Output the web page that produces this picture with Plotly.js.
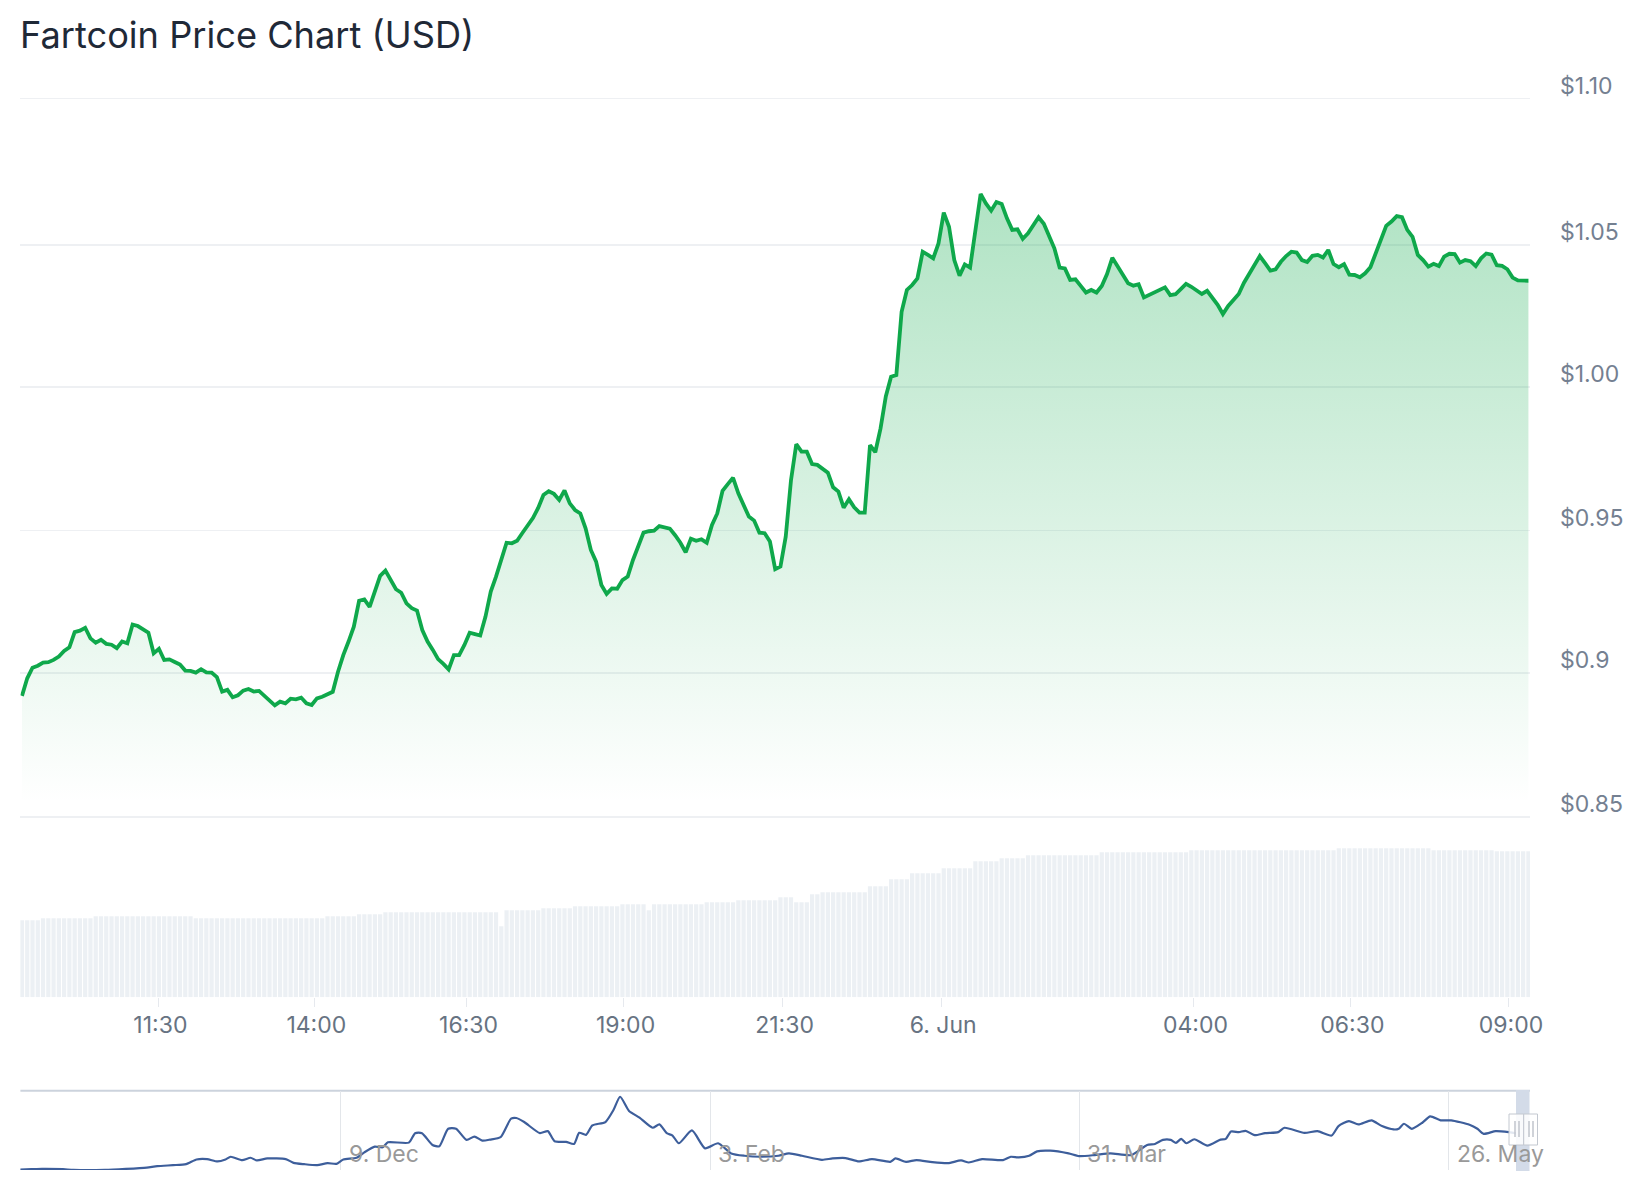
<!DOCTYPE html>
<html><head><meta charset="utf-8">
<script src="https://cdn.plot.ly/plotly-3.0.1.min.js"></script>
<style>html,body{margin:0;padding:0;background:#fff}</style></head>
<body><div id="chart" style="width:1644px;height:1200px"></div>
<script>
const chartTitle = 'Fartcoin Price Chart (USD)';
const priceValues = [
.8921,.8982,.9019,.9026,.9037,.9038,.9046,.9058,.9077,.9090,.9143,.9148,.9158,.9121,.9106,.9116,.9102,.9099,.9087,.9110,.9104,.9169,.9164,.9153,.9141,.9069,.9085,.9046,.9048,.9039,.9030,.9009,.9008,.9002,.9014,.9003,.9002,.8986,.8936,.8942,.8916,.8923,.8939,.8945,.8936,.8938,.8921,.8907,.8888,.8901,
.8895,.8911,.8909,.8915,.8895,.8889,.8912,.8918,.8928,.8935,.9005,.9063,.9110,.9162,.9252,.9257,.9231,.9284,.9339,.9357,.9322,.9292,.9280,.9243,.9226,.9218,.9150,.9110,.9081,.9049,.9032,.9013,.9063,.9063,.9098,.9141,.9136,.9131,.9197,.9284,.9336,.9394,.9454,.9452,.9461,
.9488,.9512,.9540,.9575,
.9620,.9633,.9624,.9603,.9636,.9591,.9568,.9556,.9504,.9429,.9388,.9307,.9276,.9295,.9294,.9324,.9336,.9394,.9446,.9489,.9494,.9496,.9512,.9508,.9503,.9480,.9454,.9421,.9468,.9461,.9466,.9454,.9516,.9556,.9635,.9658,.9680,.9626,.9585,.9545,.9531,.9489,.9487,.9458,.9362,.9371,.9475,.9672,.9797,.9771,
.9771,.9728,.9725,.9711,.9698,.9647,.9632,.9576,.9605,.9577,.9559,.9559,.9794,.9769,.9852,.9963,1.0032,1.0038,1.0258,1.0334,1.0351,1.0374,1.0467,1.0456,1.0444,1.0496,1.0603,1.0554,1.0438,1.0384,1.0423,1.0412,1.0537,1.0668,1.0635,1.0610,1.0640,1.0633,1.0583,1.0543,1.0545,1.0512,1.0531,1.0559,1.0587,1.0564,1.0519,1.0479,
1.0412,1.0409,1.0369,1.0371,1.0348,1.0325,1.0334,1.0325,1.0348,1.0389,1.0446,1.0417,1.0389,1.0357,1.0349,1.0354,1.0308,1.0316,1.0325,1.0334,1.0343,1.0316,1.0319,1.0337,1.0355,1.0345,1.0334,1.0320,1.0331,1.0305,1.0282,1.0250,1.0278,1.0299,1.0320,1.0359,1.0392,1.0424,1.0452,1.0427,1.0401,1.0406,1.0432,1.0452,1.0467,1.0464,1.0438,
1.0431,1.0453,1.0456,1.0447,1.0473,1.0424,1.0413,1.0424,1.0387,1.0386,1.0378,1.0392,1.0413,1.0461,1.0514,1.0557,1.0572,1.0591,1.0587,1.0543,1.0519,1.0456,1.0438,1.0415,1.0425,1.0417,1.0450,1.0460,1.0459,1.0429,1.0438,1.0434,1.0417,1.0444,1.0461,1.0457,1.0420,1.0418,1.0406,1.0377,1.0367,1.0366,1.0366];
const volumeValues = [
77,77,77,77,
79,79,79,79,79,79,79,79,79,79,
81,81,81,81,81,81,81,81,81,81,81,81,81,81,81,81,81,81,81,
79,79,79,79,79,79,79,79,79,79,79,79,79,79,79,79,79,79,79,79,79,79,79,79,79,
81,81,81,81,81,81,
83,83,83,83,83,
85,85,85,85,85,85,85,85,85,85,85,85,85,85,85,85,85,85,85,85,85,85,
71,
87,87,87,87,87,87,87,
89,89,89,89,89,89,
91,91,91,91,91,91,91,91,91,
93,93,93,93,93,
87,
93,93,93,93,93,93,93,93,93,93,
95,95,95,95,95,95,
97,97,97,97,97,97,97,97,
100,100,100,
95,95,95,
103,103,
105,105,105,105,105,105,105,105,105,
111,111,111,111,
118,118,118,118,
124,124,124,124,124,124,
129,129,129,129,129,129,
136,136,136,136,136,
139,139,139,139,139,
142,142,142,142,142,142,142,142,142,142,142,142,142,142,
145,145,145,145,145,145,145,145,145,145,145,145,145,145,145,145,145,
147,147,147,147,147,147,147,147,147,147,147,147,147,147,147,147,147,147,147,147,147,147,147,147,147,147,147,147,
149,149,149,149,149,149,149,149,149,149,149,149,149,149,149,149,149,149,
147,147,147,147,147,147,147,147,147,147,147,147,
146,146,146,146,146,146,146];
const priceIndex = priceValues.map((_, i) => i);
const timeTickPositions = [25.9,55.5,84.4,114.2,144.4,174.5,222.4,252.2,282.3];
const timeTickLabels = ['11:30','14:00','16:30','19:00','21:30','6. Jun','04:00','06:30','09:00'];
const priceTickPositions = [0.85,0.9001,0.9496,0.9996,1.049,1.10];
const priceTickLabels = ['$0.85','$0.9','$0.95','$1.00','$1.05','$1.10'];
const overviewStart = '2024-10-21';
const overviewDays = [0.33,2.08,3.67,6.85,8.44,13.21,16.39,19.57,21.16,23.55,25.53,27.12,28.71,30.30,31.50,32.29,34.04,35.31,36.27,37.86,40.64,41.83,43.42,45.41,46.99,48.35,49.38,51.37,52.56,54.15,55.35,56.14,59.32,60.27,61.31,62.90,63.93,65.28,66.48,68.07,69.26,70.45,71.64,73.23,74.82,75.62,76.81,79.20,80.39,81.42,83.17,84.36,85.16,86.19,87.15,89.13,90.33,91.36,92.71,94.30,96.29,97.32,98.43,99.31,100.26,102.25,104.24,106.22,108.21,110.20,112.59,115.37,116.96,118.95,121.97,123.59,125.58,127.57,129.55,132.34,133.13,134.72,136.31,138.70,141.08,143.07,144.26,146.25,149.43,150.62,151.81,153.40,154.60,156.58,159.37,160.96,163.34,165.73,168.91,171.29,172.48,173.68,174.87,175.66,176.46,177.25,178.45,180.43,182.42,183.22,184.01,185.20,186.24,187.59,189.18,191.17,192.12,195.14,197.13,199.27,200.31,201.90,203.33,205.32,206.91,208.66,209.45,210.25,211.44,213.03,214.22,215.81,217.40,220.18,221.38,222.33,224.16,226.14,227.74,229.33];
const overviewValues = [0,.01,.02,.01,-.01,-.01,.02,.06,.10,.13,.16,.30,.31,.24,.30,.38,.28,.35,.27,.33,.31,.20,.16,.13,.19,.17,.30,.35,.51,.68,.66,.81,.80,1.08,1.08,.73,.69,1.21,1.21,.88,.98,.86,.89,.96,1.51,1.53,1.41,1.08,1.14,.84,.82,.76,1.09,1.03,1.31,1.41,1.76,2.16,1.74,1.54,1.24,1.34,1.08,1.01,.78,1.16,.63,.78,.48,.41,.38,.41,.48,.41,.29,.33,.34,.24,.31,.23,.33,.23,.28,.22,.19,.27,.21,.31,.28,.38,.36,.41,.54,.56,.48,.40,.43,.48,.43,.73,.76,.88,.88,.79,.91,.78,.90,.71,.89,.91,1.13,1.11,1.15,1.02,1.08,1.11,1.24,1.09,1.14,1.01,1.29,1.44,1.34,1.46,1.29,1.19,1.21,1.36,1.21,1.39,1.58,1.46,1.46,1.33,1.21,1.06,1.14,1.11,1.06,1.06];
const overviewTickDates = ['2024-12-09','2025-02-03','2025-03-31','2025-05-26'];
const overviewTickLabels = ['9. Dec','3. Feb','31. Mar','26. May'];

const W = 1644, H = 1200;
const px = v => v / W, py = v => 1 - v / H;
const dayMs = 86400000, t0 = Date.parse(overviewStart + 'T00:00:00Z');
const overviewX = overviewDays.map(d => new Date(t0 + d * dayMs).toISOString());
const fontFam = 'Inter, "Noto Sans", sans-serif';

const traces = [
  {type:'bar', x:priceIndex, y:volumeValues, xaxis:'x', yaxis:'y2',
   marker:{color:'#ecf0f4', line:{width:0}}, hoverinfo:'skip', showlegend:false},
  {type:'scatter', mode:'lines', x:priceIndex, y:priceValues, xaxis:'x', yaxis:'y',
   line:{color:'#0fa84b', width:3.8, shape:'linear'}, fill:'tozeroy',
   fillgradient:{type:'vertical', start:1.0668, stop:0.8545,
     colorscale:[[0,'rgba(15,170,75,0.33)'],[1,'rgba(15,170,75,0)']]},
   showlegend:false},
  {type:'scatter', mode:'lines', x:overviewX, y:overviewValues, xaxis:'x2', yaxis:'y3',
   line:{color:'#3d5e9b', width:2.2, shape:'spline', smoothing:0.6}, showlegend:false, hoverinfo:'skip'}
];

function hRect(x0,x1,y0,y1,fill,line){
  return {type:'rect',xref:'paper',yref:'paper',x0:px(x0),x1:px(x1),y0:py(y0),y1:py(y1),
          fillcolor:fill,line:line||{width:0},layer:'above'};
}
function vLine(x,y0,y1,c,w){
  return {type:'line',xref:'paper',yref:'paper',x0:px(x),x1:px(x),y0:py(y0),y1:py(y1),line:{color:c,width:w},layer:'above'};
}
const shapes = [
  {type:'line',xref:'paper',yref:'paper',x0:px(20.4),x1:px(1530),y0:py(1090.7),y1:py(1090.7),line:{color:'#ccd3dd',width:2},layer:'below'},
  hRect(1516,1529.5,1090,1171,'#d3dbe8'),
  hRect(1509,1523.7,1114,1145,'rgba(255,255,255,0.85)',{color:'#c3c8d0',width:1}),
  hRect(1523.7,1537.5,1114,1145,'rgba(255,255,255,0.85)',{color:'#c3c8d0',width:1}),
  vLine(1515,1121,1137,'#c0c5cd',1.5), vLine(1519,1121,1137,'#c0c5cd',1.5),
  vLine(1529,1121,1137,'#c0c5cd',1.5), vLine(1533,1121,1137,'#c0c5cd',1.5)
];
const annotations = overviewTickDates.map((d,i)=>({
  x:d+'T00:00:00Z', xref:'x2', y:py(1154), yref:'paper', text:overviewTickLabels[i], showarrow:false,
  xanchor:'left', yanchor:'middle', xshift:6, font:{family:fontFam,size:23,color:'#999999'}
}));

const layout = {
  width:W, height:H, margin:{l:0,r:0,t:0,b:0}, paper_bgcolor:'#fff', plot_bgcolor:'rgba(0,0,0,0)',
  showlegend:false, bargap:0.2,
  title:{text:chartTitle, x:px(20), xanchor:'left', xref:'paper', y:py(35), yanchor:'middle',
         font:{family:fontFam,size:36.2,color:'#1f2937'}},
  font:{family:fontFam},
  xaxis:{domain:[px(20.4),px(1530)], range:[-0.3,286.3], anchor:'y2', tickmode:'array',
         tickvals:timeTickPositions, ticktext:timeTickLabels, tickangle:0, ticks:'outside', ticklen:9,
         tickcolor:'#e6e9ee', tickwidth:1, showgrid:false, zeroline:false, showline:false,
         ticklabelshift:2, ticklabelstandoff:-2, tickfont:{family:fontFam,size:23,color:'#677382'}, automargin:false},
  yaxis:{domain:[py(818.8),py(96.6)], range:[0.8493,1.1007], side:'right', anchor:'x', tickmode:'array',
         tickvals:priceTickPositions, ticktext:priceTickLabels, showgrid:true, gridcolor:'#eef0f3', gridwidth:1.5,
         zeroline:false, showline:false, ticks:'', ticklabelstandoff:29, ticklabelshift:-13,
         tickfont:{family:fontFam,size:23,color:'#748091'}, automargin:false},
  yaxis2:{domain:[py(997.3),py(848)], range:[0,149.3], anchor:'x', visible:false},
  xaxis2:{domain:[px(20.4),px(1530)], type:'date', range:['2024-10-21T09:36:00Z','2025-06-07T08:38:00Z'], anchor:'y3',
          tickmode:'array', tickvals:overviewTickDates.map(d=>d+'T00:00:00Z'), ticktext:overviewTickDates.map(()=>''),
          showgrid:true, gridcolor:'#e3e6ea', gridwidth:1, zeroline:false, showline:false, ticks:'', showticklabels:false},
  yaxis3:{domain:[py(1170),py(1090.7)], range:[-0.013,2.34], anchor:'x2', visible:false, fixedrange:true},
  shapes, annotations
};
Plotly.newPlot('chart', traces, layout, {displayModeBar:false, staticPlot:true});
</script></body></html>
